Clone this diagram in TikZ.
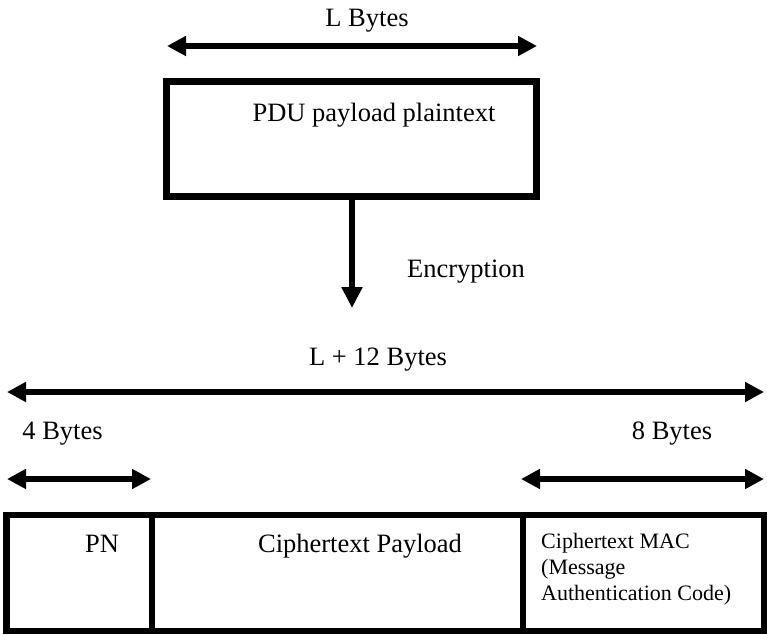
\documentclass[tikz,border=0pt]{standalone}
\usepackage{fontspec}
\setmainfont{Liberation Serif}
\usetikzlibrary{arrows.meta}
\begin{document}
\begin{tikzpicture}[x=1pt,y=-1pt,
  tip/.tip={Triangle[length=19pt,width=19pt]},
  dimarrow/.style={line width=5.5pt,{tip}-{tip}},
  flowarrow/.style={line width=5.5pt,-{Triangle[length=21pt,width=20pt]}},
  box/.style={draw,line width=6.5pt,inner sep=0pt},
  lbl/.style={inner sep=0pt,anchor=base,font=\fontsize{26.5}{30}\selectfont},
  small/.style={inner sep=0pt,anchor=base west,align=left,font=\fontsize{22}{26}\selectfont}]
\useasboundingbox (0,0) rectangle (767,634);

% plaintext block and its width
\node[box,minimum width=370pt,minimum height=115pt] (plain) at (351.5,139) {};
\node[lbl] (plaintxt) at (374,121) {PDU payload plaintext};
\coordinate (lL) at (167,46);
\coordinate (lR) at (537,46);
\draw[dimarrow] (lL) -- (lR);
\node[lbl] (lbytes) at (367,27) {L Bytes};

% encryption step
\coordinate (enc) at (352,308);
\draw[flowarrow] (plain.south -| enc) -- (enc);
\node[lbl] (enctxt) at (466,277) {Encryption};

% total length
\coordinate (tL) at (7,392);
\coordinate (tR) at (764,392);
\draw[dimarrow] (tL) -- (tR);
\node[lbl] (tbytes) at (378,365) {L + 12 Bytes};

% field lengths
\coordinate (aL) at (7,479);
\coordinate (aR) at (151,479);
\coordinate (bL) at (521,479);
\coordinate (bR) at (764,479);
\draw[dimarrow] (aL) -- (aR);
\draw[dimarrow] (bL) -- (bR);
\node[lbl] (fourb) at (62.5,439) {4 Bytes};
\node[lbl] (eightb) at (672,439) {8 Bytes};

% ciphertext frame
\node[box,minimum width=145.5pt,minimum height=116pt] (pn) at (79.25,573) {};
\node[box,minimum width=371pt,minimum height=116pt] (payload) at (337.5,573) {};
\node[box,minimum width=241pt,minimum height=116pt] (mac) at (643.5,573) {};
\node[lbl] (pntxt) at (102,552) {PN};
\node[lbl] (paytxt) at (360,552) {Ciphertext Payload};
% anchored on the baseline of the last line
\node[small] (mactxt) at (541,600) {Ciphertext MAC\\(Message\\Authentication Code)};
\end{tikzpicture}
\end{document}
